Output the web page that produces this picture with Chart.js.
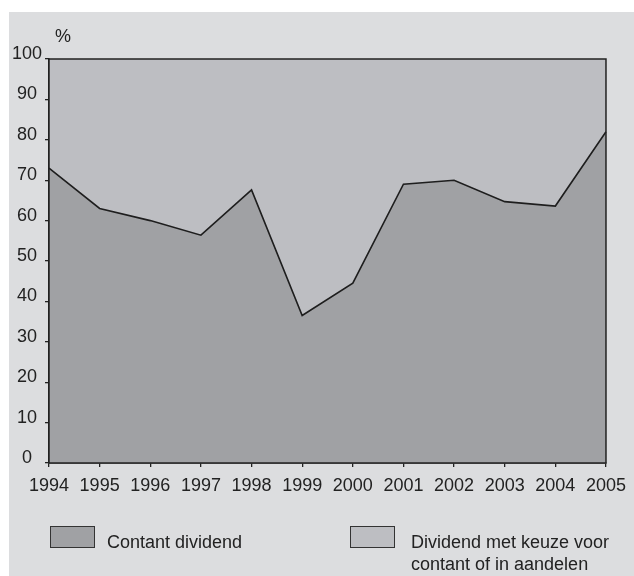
<!DOCTYPE html>
<html>
<head>
<meta charset="utf-8">
<script src="https://cdn.jsdelivr.net/npm/chart.js@4.4.0/dist/chart.umd.min.js"></script>
<style>
  body { margin: 0; background: #fff; width: 634px; height: 576px; overflow: hidden; position: relative;
         font-family: "Liberation Sans", Arial, sans-serif; color: #222; }
  #panel { position: absolute; left: 9px; top: 12px; right: 0; bottom: 0; background: #dcdddf; }
  #chart { position: absolute; left: 0; top: 0; }
  .unit { position: absolute; left: 55px; top: 25px; font-size: 18px; line-height: 22px; }
  .box { position: absolute; width: 43px; height: 20px; border: 1.5px solid #333; }
  .lbl { position: absolute; font-size: 18px; line-height: 22px; }
</style>
</head>
<body>
<div id="panel"></div>
<canvas id="chart" width="634" height="576"></canvas>
<div class="unit">%</div>
<div class="box" style="left:50px; top:526px; background:#a0a1a4;"></div>
<div class="lbl" style="left:107px; top:531px;">Contant dividend</div>
<div class="box" style="left:350px; top:526px; background:#bdbec2;"></div>
<div class="lbl" style="left:411px; top:531px;">Dividend met keuze voor<br>contant of in aandelen</div>

<script>
const jaren = ['1994', '1995', '1996', '1997', '1998', '1999', '2000', '2001', '2002', '2003', '2004', '2005'];
// aandeel contant dividend in %
const contant = [73, 63, 60, 56.4, 67.6, 36.5, 44.5, 69, 70, 64.7, 63.6, 82];
// bovengrens: alles samen is 100%
const totaal = [100, 100, 100, 100, 100, 100, 100, 100, 100, 100, 100, 100];

const ctx = document.getElementById('chart').getContext('2d');

// kader om het plotvlak
const kader = {
    id: 'kader',
    afterDatasetsDraw(chart) {
        const { ctx, chartArea: a } = chart;
        ctx.save();
        ctx.strokeStyle = '#222';
        ctx.lineWidth = 1.5;
        ctx.strokeRect(a.left, a.top, a.right - a.left, a.bottom - a.top);
        ctx.restore();
    }
};

new Chart(ctx, {
    type: 'line',
    data: {
        labels: jaren,
        datasets: [{
            label: 'Contant dividend',
            data: contant,
            borderColor: '#1e1e1e',
            borderWidth: 1.6,
            backgroundColor: '#a0a1a4',
            fill: 'origin',
            pointRadius: 0,
            tension: 0
        }, {
            label: 'Dividend met keuze voor contant of in aandelen',
            data: totaal,
            borderWidth: 0,
            borderColor: 'rgba(0,0,0,0)',
            backgroundColor: '#bdbec2',
            fill: '-1',
            pointRadius: 0
        }]
    },
    options: {
        responsive: false,
        animation: false,
        layout: { padding: { left: 0, top: 59, right: 22, bottom: 73 } },
        plugins: { legend: { display: false }, tooltip: { enabled: false } },
        scales: {
            x: {
                offset: false,
                afterFit: s => { s.height = 40; },
                grid: { drawOnChartArea: false, drawTicks: true, tickLength: 4, color: '#222', lineWidth: 1.3 },
                border: { display: true, color: '#222', width: 1.5 },
                ticks: { color: '#222', padding: 8, maxRotation: 0, autoSkip: false,
                         font: { family: 'Liberation Sans', size: 18 } }
            },
            y: {
                min: 0,
                max: 100,
                afterFit: s => { s.width = 49; },
                grid: { drawOnChartArea: false, drawTicks: true, tickLength: 4, color: '#222', lineWidth: 1.3 },
                border: { display: true, color: '#222', width: 1.5 },
                ticks: { stepSize: 10, color: '#222', padding: 3, crossAlign: 'center', labelOffset: -5,
                         font: { family: 'Liberation Sans', size: 18 } }
            }
        }
    },
    plugins: [kader]
});
</script>
</body>
</html>
